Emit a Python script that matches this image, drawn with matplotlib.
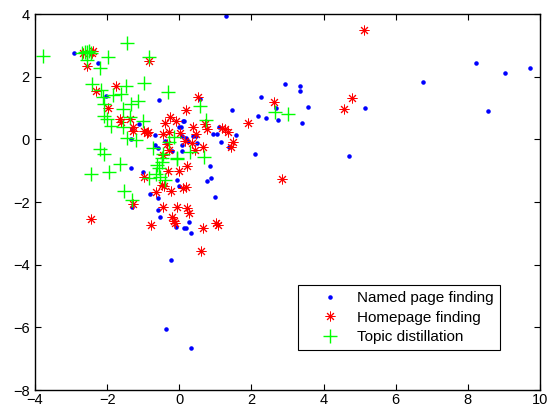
import numpy as np
import matplotlib
matplotlib.use("Agg")
import matplotlib.pyplot as plt

plt.rcParams['font.family'] = ['Liberation Sans', 'DejaVu Sans']

# Named page finding (blue dots)
named = np.array([
    (1.30, 3.93), (8.23, 2.45), (9.04, 2.13), (9.73, 2.28), (6.77, 1.83), (8.55, 0.90),
    (5.16, 1.00), (4.70, -0.52), (2.93, 1.76), (3.34, 1.70), (3.34, 1.55), (2.27, 1.35),
    (3.58, 1.02), (2.69, 1.00), (1.46, 0.95), (2.18, 0.75), (2.41, 0.68), (2.74, 0.62),
    (3.41, 0.53), (2.10, -0.47), (0.13, 0.58), (0.94, 0.18), (1.05, 0.16), (1.58, 0.15),
    (1.15, -0.09), (1.11, 0.40), (0.05, 0.38), (0.18, 0.04), (0.46, 0.12), (0.08, -0.18),
    (1.39, -0.25), (0.57, 1.30), (0.84, -0.84), (0.88, -1.23), (0.78, -1.34), (0.99, -1.83),
    (0.32, -2.98), (-0.08, -2.79), (0.26, -2.64), (0.14, -2.84), (0.19, -2.84), (-0.22, -3.85),
    (-0.36, -6.05), (0.33, -6.65), (-1.30, -2.17), (-1.35, -0.92), (-1.01, -1.04), (-0.80, -1.75),
    (-0.60, -1.88), (-0.59, -2.26), (-0.53, -2.47), (-0.07, -1.30), (-0.02, -1.50), (-2.91, 2.74),
    (-2.24, 2.44), (-2.03, 1.38), (-0.56, 1.24), (-1.11, 0.49), (-1.32, 0.32), (-1.34, 0.02),
    (-0.66, 0.14), (0.11, 0.58), (0.00, 0.38), (-0.40, -0.05), (0.07, 0.12), (0.49, -0.13),
    (-0.67, -0.17), (-0.58, -0.27), (-0.19, -0.37), (0.25, -0.04), (0.07, -0.36), (0.37, 0.12),
])

# Homepage finding (red asterisks)
homepage = np.array([
    (5.13, 3.49), (4.78, 1.31), (4.58, 0.98), (2.63, 1.19), (2.85, -1.25), (1.91, 0.51),
    (1.19, 0.37), (1.27, 0.33), (1.34, 0.24), (1.50, -0.10), (1.43, -0.26), (0.52, 1.36),
    (0.19, 0.94), (0.37, 0.40), (0.72, 0.48), (0.77, 0.32), (0.46, 0.17), (0.17, -0.04),
    (0.34, -0.13), (0.65, -0.26), (0.44, -0.34), (0.02, 0.19), (-0.46, 0.17), (-0.28, 0.24),
    (-0.26, 0.70), (-0.09, 0.58), (-0.40, 0.51), (-0.35, -0.16), (-0.44, -0.51), (-0.28, -0.34),
    (-0.30, -1.02), (0.00, -1.02), (0.22, -0.85), (-0.47, -1.46), (-0.41, -1.50), (-0.23, -1.64),
    (-0.65, -1.68), (0.09, -1.54), (0.19, -1.51), (-0.99, -1.21), (-1.27, -2.05), (-2.44, -2.55),
    (-0.79, -2.72), (-0.46, -2.16), (-0.07, -2.16), (0.21, -2.20), (0.27, -2.36), (-0.19, -2.49),
    (-0.16, -2.61), (-0.12, -2.68), (0.67, -2.82), (1.01, -2.68), (1.06, -2.73), (0.61, -3.55),
    (-2.66, 2.77), (-2.42, 2.77), (-2.38, 2.83), (-2.57, 2.34), (-0.83, 2.51), (-2.31, 1.55),
    (-1.76, 1.71), (-1.98, 1.00), (-1.64, 0.64), (-1.62, 0.56), (-1.37, 0.65), (-1.27, 0.40),
    (-1.27, 0.28), (-0.97, 0.28), (-0.90, 0.21), (-0.86, 0.24),
])

# Topic distillation (green plus)
topic = np.array([
    (-3.79, 2.66), (-2.70, 2.77), (-2.62, 2.80), (-2.55, 2.78), (-2.50, 2.82), (-2.45, 2.76),
    (-2.57, 2.53), (-2.20, 2.27), (-1.97, 2.64), (-1.46, 3.08), (-0.85, 2.62), (-2.41, 1.77),
    (-2.17, 1.57), (-1.48, 1.70), (-0.97, 1.79), (-0.30, 1.50), (-2.12, 1.34), (-1.83, 1.41),
    (-1.62, 1.45), (-2.09, 1.13), (-1.35, 1.13), (-1.14, 1.23), (-1.55, 0.96), (-2.09, 0.74),
    (-2.01, 0.65), (-1.37, 0.72), (-1.90, 0.43), (-1.01, 0.60), (-1.55, 0.40), (-1.21, -0.02),
    (-1.44, 0.04), (-0.15, 0.06), (-0.29, -0.09), (-0.72, -0.29), (-0.07, -0.58), (0.30, -0.42),
    (0.69, -0.57), (0.57, 1.06), (0.74, 0.63), (2.66, 0.87), (3.02, 0.80), (-2.21, -0.31),
    (-2.09, -0.47), (-1.63, -0.80), (-1.95, -1.05), (-2.44, -1.12), (-1.52, -1.65), (-1.30, -1.95),
    (-0.84, -1.23), (-0.65, -1.10), (-0.55, -0.90), (-0.61, -0.81), (-0.49, -0.73), (-0.44, -0.46),
    (-0.47, -0.61), (-0.40, -1.31), (-0.53, -1.21), (-0.06, -0.63),
])

labels = ["Named page finding", "Homepage finding", "Topic distillation"]

fig = plt.figure(figsize=(5.54, 4.08), dpi=100)
ax = fig.add_axes([35 / 554, 1 - 390 / 408, 505 / 554, 376 / 408])

ax.plot(named[:, 0], named[:, 1], linestyle='none', marker='.', color='#0000ff',
        markersize=4.5, label=labels[0])
ax.plot(homepage[:, 0], homepage[:, 1], linestyle='none', marker=(8, 2, 0), color='#ff0000',
        markersize=7, markeredgewidth=0.7, label=labels[1])
ax.plot(topic[:, 0], topic[:, 1], linestyle='none', marker='+', color='#00ff00',
        markersize=10, markeredgewidth=1.0, label=labels[2])

ax.set_xlim(-4, 10)
ax.set_ylim(-8, 4)
ax.set_xticks(np.arange(-4, 11, 2))
ax.set_yticks(np.arange(-8, 5, 2))
ax.tick_params(direction='in', top=True, right=True, labelsize=10.5, length=4, width=0.8)
ax.tick_params(axis='x', pad=2)
ax.tick_params(axis='y', pad=4)
for s in ax.spines.values():
    s.set_linewidth(1.0)

leg = ax.legend(loc='lower right', bbox_to_anchor=(0.921, 0.106), fontsize=11,
                fancybox=False, framealpha=1, edgecolor='black', borderpad=0.4,
                handlelength=3.4, handletextpad=0.1, labelspacing=0.35, borderaxespad=0)
leg.get_frame().set_linewidth(0.8)

fig.savefig("out.png", dpi=100)
